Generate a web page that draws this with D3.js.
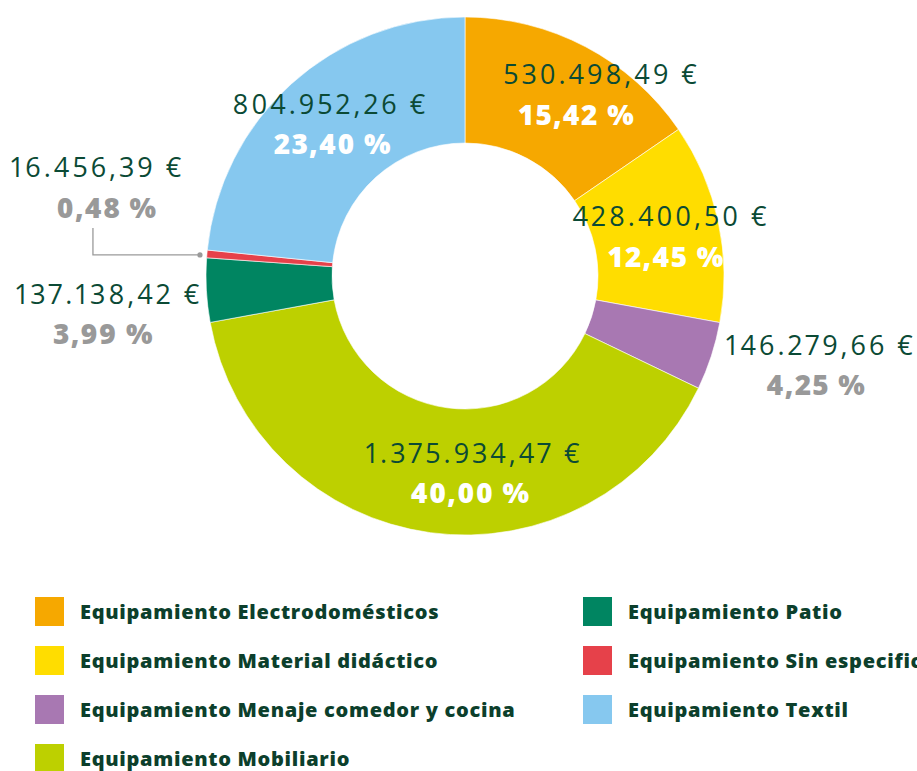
<!DOCTYPE html>
<html>
<head>
<meta charset="utf-8">
<script src="https://cdn.jsdelivr.net/npm/d3@7"></script>
<style>
  html, body { margin: 0; padding: 0; background: #fff; overflow: hidden; }
  svg { display: block; }
</style>
</head>
<body>
<svg id="chart"></svg>
<script>
const categories = [
  "Equipamiento Electrodomésticos",
  "Equipamiento Material didáctico",
  "Equipamiento Menaje comedor y cocina",
  "Equipamiento Mobiliario",
  "Equipamiento Patio",
  "Equipamiento Sin especificar",
  "Equipamiento Textil"
];
const amounts = [530498.49, 428400.50, 146279.66, 1375934.47, 137138.42, 16456.39, 804952.26];
const colors = ["#f6a800", "#ffdd00", "#a878b2", "#bdd000", "#008561", "#e6414a", "#86c8ef"];

// label placement: inside slice (centroid) or outside (outer edge), plus nudges
const labelLayout = [
  { pos: "in",  vdx: 39, pdx: 15, dy: 0 },
  { pos: "in",  vdx: 3,  pdx: -1, dy: 3 },
  { pos: "out", vdx: 108, pdx: 104, dy: 8 },
  { pos: "in",  vdx: 35, pdx: 32, dy: -8 },
  { pos: "out", vdx: -99, pdx: -104, dy: 23 },
  { pos: "leader", vdx: -111, pdx: -101, dy: -67 },
  { pos: "in",  vdx: 2,  pdx: 5, dy: 0 }
];

const width = 917;
const height = 771;
const cx = 465, cy = 276;
const outerR = 259, innerR = 133;

const es = d3.formatLocale({ decimal: ",", thousands: ".", grouping: [3], currency: ["", " €"] });
const fmtMoney = es.format(",.2f");
const fmtPct = es.format(".2f");

const svg = d3.select("#chart")
  .attr("width", width)
  .attr("height", height);

const total = d3.sum(amounts);
const data = categories.map((c, i) => ({ name: c, value: amounts[i], color: colors[i], i }));

const pie = d3.pie().value(d => d.value).sort(null);
const arcs = pie(data);

const arc = d3.arc().innerRadius(innerR).outerRadius(outerR);
const midArc = d3.arc().innerRadius((innerR + outerR) / 2 + 10).outerRadius((innerR + outerR) / 2 + 10);
const edgeArc = d3.arc().innerRadius(outerR).outerRadius(outerR);

const g = svg.append("g").attr("transform", `translate(${cx},${cy})`);

g.selectAll("path.slice")
  .data(arcs)
  .join("path")
  .attr("class", "slice")
  .attr("d", arc)
  .attr("fill", d => d.data.color)
  .attr("stroke", "#fff")
  .attr("stroke-width", 0.6);

const valueFont = "'Open Sans', 'Noto Sans', sans-serif";
const textGreen = "#0b4a35";

arcs.forEach(d => {
  const lay = labelLayout[d.data.i];
  const anchor = lay.pos === "in" ? midArc.centroid(d) : edgeArc.centroid(d);
  const x0 = anchor[0], y0 = anchor[1] + lay.dy;

  if (lay.pos === "leader") {
    const a = (d.startAngle + d.endAngle) / 2;
    const px = Math.sin(a) * (outerR + 7);
    const py = -Math.cos(a) * (outerR) + 1;
    g.append("path")
      .attr("d", `M${px},${py}H${x0 + lay.pdx - 13}V${py - 27}`)
      .attr("fill", "none")
      .attr("stroke", "#9a9a9a")
      .attr("stroke-width", 1.3);
    g.append("circle")
      .attr("cx", px).attr("cy", py).attr("r", 2.6)
      .attr("fill", "#9a9a9a");
  }

  const pctColor = lay.pos === "in" ? "#fff" : "#999999";

  g.append("text")
    .attr("x", x0 + lay.vdx + 1.5)
    .attr("y", y0 - 20)
    .attr("text-anchor", "middle")
    .attr("dominant-baseline", "central")
    .style("font-family", valueFont)
    .style("font-size", "27px")
    .style("font-variant-numeric", "proportional-nums")
    .style("letter-spacing", "3px")
    .style("fill", textGreen)
    .text(fmtMoney(d.data.value) + " €");

  g.append("text")
    .attr("x", x0 + lay.pdx + 1)
    .attr("y", y0 + 20)
    .attr("text-anchor", "middle")
    .attr("dominant-baseline", "central")
    .style("font-family", valueFont)
    .style("font-weight", "800")
    .style("font-size", "28px")
    .style("font-variant-numeric", "proportional-nums")
    .style("letter-spacing", "1.2px")
    .style("fill", pctColor)
    .text(fmtPct(d.data.value / total * 100) + " %");
});

// legend, two columns
const legend = svg.append("g");
const perCol = 4;
const item = legend.selectAll("g.item")
  .data(data)
  .join("g")
  .attr("class", "item")
  .attr("transform", d => {
    const col = Math.floor(d.i / perCol);
    const row = d.i % perCol;
    return `translate(${35 + col * 548},${597 + row * 49})`;
  });

item.append("rect")
  .attr("width", 29)
  .attr("height", 29)
  .attr("fill", d => d.color);

item.append("text")
  .attr("x", 45)
  .attr("y", 14.5)
  .attr("dominant-baseline", "central")
  .style("font-family", valueFont)
  .style("font-weight", "800")
  .style("font-size", "20px")
  .style("letter-spacing", "0.7px")
  .style("fill", "#0c3f2c")
  .text(d => d.name);
</script>
</body>
</html>
